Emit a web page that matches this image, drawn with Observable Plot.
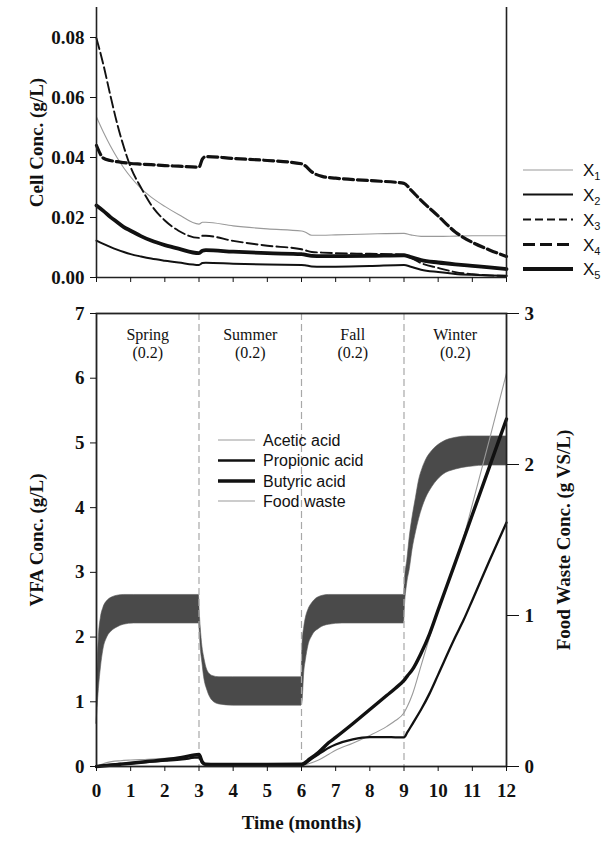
<!DOCTYPE html>
<html>
<head>
<meta charset="utf-8">
<script src="https://cdn.jsdelivr.net/npm/d3@7"></script>
<script src="https://cdn.jsdelivr.net/npm/@observablehq/plot@0.6"></script>
<style>
  html, body { margin: 0; padding: 0; background: #fff; }
  #wrap { position: relative; width: 608px; height: 841px; overflow: hidden; }
  #top { position: absolute; left: 0; top: 0; }
  #bottom { position: absolute; left: 0; top: 290px; }
  #legend { position: absolute; left: 0; top: 0; pointer-events: none; }
</style>
</head>
<body>
<div id="wrap">
  <div id="top"></div>
  <div id="bottom"></div>
  <svg id="legend" width="608" height="841"></svg>
</div>
<script>
// ---------------- DATA ----------------
const monthTicks = [0, 1, 2, 3, 4, 5, 6, 7, 8, 9, 10, 11, 12];
const monthDomain = [0, 12];
const cellTicks = [0, 0.02, 0.04, 0.06, 0.08];
const vfaTicks = [0, 1, 2, 3, 4, 5, 6, 7];
const fwTicks = [0, 1, 2, 3];

// cell concentrations (g/L)
const cellT  = [0, 0.2, 0.4, 0.6, 0.8, 1.0, 1.3, 1.6, 2.0, 2.4, 3.0, 3.1, 3.2, 4, 5, 6, 6.1, 6.3, 6.6, 7, 8, 9, 9.2, 9.5, 10, 10.5, 11, 11.5, 12];
const cellX1 = [0.0535, 0.0485, 0.044, 0.040, 0.0365, 0.0335, 0.0297, 0.0268, 0.0237, 0.021, 0.0178, 0.0184, 0.0184, 0.0172, 0.0162, 0.0155, 0.0152, 0.0141, 0.0141, 0.0142, 0.0145, 0.0147, 0.0142, 0.0137, 0.0137, 0.0138, 0.0139, 0.0139, 0.0139];
const cellX2 = [0.0123, 0.0112, 0.0102, 0.0093, 0.0085, 0.0078, 0.0070, 0.0063, 0.0056, 0.0050, 0.0042, 0.0048, 0.0049, 0.0046, 0.0043, 0.0042, 0.0041, 0.0037, 0.0036, 0.0036, 0.0038, 0.0042, 0.0036, 0.0026, 0.0018, 0.0012, 0.0009, 0.0007, 0.0006];
const cellX3 = [0.0797, 0.071, 0.061, 0.0515, 0.0435, 0.0368, 0.030, 0.0242, 0.019, 0.0156, 0.0132, 0.0139, 0.0139, 0.0122, 0.0106, 0.0094, 0.0091, 0.0085, 0.0083, 0.0081, 0.0079, 0.0077, 0.0066, 0.0048, 0.0032, 0.0018, 0.0011, 0.0007, 0.0005];
const cellX4 = [0.044, 0.0398, 0.0390, 0.0386, 0.0383, 0.0380, 0.0378, 0.0376, 0.0373, 0.0371, 0.0368, 0.0395, 0.0403, 0.0397, 0.0390, 0.0379, 0.0373, 0.0352, 0.0337, 0.0331, 0.0323, 0.0314, 0.0292, 0.0257, 0.0205, 0.0152, 0.0117, 0.0092, 0.0070];
const cellX5 = [0.024, 0.0222, 0.0202, 0.0185, 0.0168, 0.0156, 0.0138, 0.0123, 0.0108, 0.0096, 0.0081, 0.0089, 0.0091, 0.0086, 0.0081, 0.0078, 0.0076, 0.0072, 0.0071, 0.0071, 0.0072, 0.0074, 0.0068, 0.0058, 0.0050, 0.0044, 0.0039, 0.0034, 0.0028];
const cellNames = ["1", "2", "3", "4", "5"];

// VFA concentrations (g/L)
const vfaT       = [0, 0.3, 0.7, 1, 1.5, 2, 2.5, 3, 3.1, 3.2, 3.5, 4, 5, 6, 6.25, 6.5, 6.8, 7, 7.5, 8, 8.5, 8.75, 9, 9.1, 9.25, 9.5, 9.75, 10, 10.5, 10.75, 11, 11.5, 12];
const acetic     = [0, 0.06, 0.09, 0.10, 0.11, 0.125, 0.145, 0.165, 0.06, 0.03, 0.025, 0.02, 0.02, 0.02, 0.05, 0.10, 0.19, 0.25, 0.36, 0.48, 0.62, 0.71, 0.83, 0.93, 1.12, 1.56, 2.0, 2.42, 3.15, 3.55, 4.05, 5.05, 6.08];
const propionic  = [0, 0.02, 0.04, 0.05, 0.07, 0.09, 0.11, 0.14, 0.05, 0.025, 0.02, 0.02, 0.02, 0.02, 0.10, 0.19, 0.29, 0.34, 0.42, 0.455, 0.455, 0.45, 0.45, 0.53, 0.66, 0.88, 1.13, 1.42, 2.0, 2.27, 2.57, 3.18, 3.77];
const butyric    = [0, 0.015, 0.035, 0.05, 0.078, 0.105, 0.14, 0.185, 0.07, 0.035, 0.03, 0.03, 0.03, 0.035, 0.12, 0.22, 0.37, 0.45, 0.66, 0.88, 1.10, 1.21, 1.33, 1.40, 1.50, 1.75, 2.05, 2.42, 3.15, 3.52, 3.89, 4.63, 5.37];
const vfaNames = ["Acetic acid", "Propionic acid", "Butyric acid", "Food waste"];

// food waste (g VS/L): envelope of the daily-fed oscillation
const fwT    = [0, 0.03, 0.07, 0.13, 0.2, 0.32, 0.45, 0.61, 0.8, 1.1, 3.0, 3.02, 3.05, 3.1, 3.15, 3.25, 3.39, 3.6, 4.0, 6.0, 6.01, 6.03, 6.08, 6.13, 6.2, 6.32, 6.52, 6.81, 7.2, 9.0, 9.03, 9.1, 9.17, 9.25, 9.35, 9.44, 9.54, 9.64, 9.83, 10.13, 10.52, 10.9, 11.48, 12];
const fwHigh = [0.300, 0.643, 0.857, 0.986, 1.050, 1.097, 1.119, 1.131, 1.136, 1.136, 1.136, 1.029, 0.921, 0.793, 0.724, 0.634, 0.600, 0.591, 0.591, 0.591, 0.686, 0.810, 0.921, 0.986, 1.037, 1.084, 1.123, 1.136, 1.136, 1.136, 1.243, 1.371, 1.521, 1.650, 1.779, 1.894, 1.971, 2.027, 2.091, 2.147, 2.177, 2.186, 2.186, 2.186];
const fwLow  = [0.283, 0.386, 0.514, 0.656, 0.771, 0.857, 0.896, 0.921, 0.939, 0.947, 0.947, 0.900, 0.789, 0.686, 0.591, 0.501, 0.437, 0.411, 0.403, 0.403, 0.407, 0.429, 0.621, 0.707, 0.797, 0.866, 0.913, 0.939, 0.947, 0.947, 1.071, 1.221, 1.307, 1.436, 1.551, 1.637, 1.714, 1.774, 1.851, 1.929, 1.967, 1.984, 1.993, 1.993];

// seasons
const seasonStarts = [0, 3, 6, 9];
const seasonNames = ["Spring", "Summer", "Fall", "Winter"];
const seasonRatio = ["0.2", "0.2", "0.2", "0.2"];

// ---------------- STYLES ----------------
const serif = "'Liberation Serif', 'Times New Roman', serif";
const sans = "'Liberation Sans', Arial, sans-serif";
const cellStyles = [
  {stroke: "#9a9a9a", strokeWidth: 1.1, dash: null, legDash: null},
  {stroke: "#111", strokeWidth: 2.0, dash: null, legDash: null},
  {stroke: "#111", strokeWidth: 1.9, dash: "11,4", legDash: "8,4"},
  {stroke: "#111", strokeWidth: 3.2, dash: "10,4", legDash: "12,5"},
  {stroke: "#111", strokeWidth: 3.8, dash: null, legDash: null}
];
const vfaStyles = [
  {stroke: "#9a9a9a", strokeWidth: 1.1},
  {stroke: "#111", strokeWidth: 2.3},
  {stroke: "#111", strokeWidth: 3.4},
  {stroke: "#9a9a9a", strokeWidth: 1.1}
];
const ratio = 7 / 3; // left (VFA) units per food-waste unit

// ---------------- TOP PLOT ----------------
const cellSeries = [cellX1, cellX2, cellX3, cellX4, cellX5];
const cellMarks = cellSeries.map((vals, i) =>
  Plot.line(cellT.map((t, j) => ({t, v: vals[j]})), {
    x: "t", y: "v", curve: "monotone-x",
    stroke: cellStyles[i].stroke, strokeWidth: cellStyles[i].strokeWidth,
    strokeDasharray: cellStyles[i].dash
  })
);

const topPlot = Plot.plot({
  width: 608, height: 290,
  marginLeft: 96, marginRight: 102, marginTop: 7, marginBottom: 13,
  x: {domain: monthDomain, axis: null},
  y: {domain: [0, 0.09], axis: null},
  style: {fontFamily: serif, fontSize: "19px", fontWeight: "bold", color: "#111", background: "transparent", overflow: "visible"},
  marks: [
    ...cellMarks,
    Plot.ruleX(monthDomain, {stroke: "#222", strokeWidth: 1.6}),
    Plot.ruleY([0], {stroke: "#222", strokeWidth: 1.6}),
    Plot.axisY({ticks: cellTicks, tickFormat: d3.format(".2f"), tickSize: 6, tickPadding: 6, label: null, fontSize: 19, fontWeight: "bold"}),
    Plot.axisX({ticks: monthTicks, tickFormat: () => "", tickSize: 5, label: null}),
    Plot.text(["Cell Conc. (g/L)"], {frameAnchor: "left", textAnchor: "middle", rotate: -90, dx: -60, fontSize: 19, fontWeight: "bold"})
  ]
});
document.getElementById("top").appendChild(topPlot);

// ---------------- BOTTOM PLOT ----------------
const fwRows = fwT.map((t, j) => ({t, hi: fwHigh[j] * ratio, lo: fwLow[j] * ratio}));
const vfaSeries = [acetic, propionic, butyric];
const vfaMarks = vfaSeries.map((vals, i) =>
  Plot.line(vfaT.map((t, j) => ({t, v: vals[j]})), {
    x: "t", y: "v", curve: "monotone-x",
    stroke: vfaStyles[i].stroke, strokeWidth: vfaStyles[i].strokeWidth
  })
);
const seasonRows = seasonStarts.map((s, i) => ({
  mid: s + (i < seasonStarts.length - 1 ? seasonStarts[i + 1] - s : monthDomain[1] - s) / 2,
  label: seasonNames[i] + "\n(" + seasonRatio[i] + ")"
}));

const bottomPlot = Plot.plot({
  width: 608, height: 551,
  marginLeft: 96, marginRight: 102, marginTop: 23, marginBottom: 75,
  x: {domain: monthDomain, axis: null},
  y: {domain: [0, 7], axis: null},
  style: {fontFamily: serif, fontSize: "19px", fontWeight: "bold", color: "#111", background: "transparent", overflow: "visible"},
  marks: [
    Plot.areaY(fwRows, {x: "t", y1: "lo", y2: "hi", curve: "monotone-x", fill: "#4a4a4a", stroke: "#5a5a5a", strokeWidth: 0.6}),
    Plot.ruleX(seasonStarts.slice(1), {stroke: "#a8a8a8", strokeWidth: 1.2, strokeDasharray: "7,4"}),
    ...vfaMarks,
    Plot.frame({stroke: "#222", strokeWidth: 1.8}),
    Plot.axisY({ticks: vfaTicks, tickFormat: d3.format("d"), tickSize: 6, tickPadding: 6, label: null, fontSize: 19, fontWeight: "bold"}),
    Plot.axisY({anchor: "right", ticks: fwTicks.map(v => v * ratio), tickFormat: v => String(Math.round(v / ratio)), tickSize: 12, tickPadding: 6, label: null, fontSize: 19, fontWeight: "bold"}),
    Plot.axisX({ticks: monthTicks, tickFormat: d3.format("d"), tickSize: 5, tickPadding: 12, label: null, fontSize: 19, fontWeight: "bold"}),
    Plot.text(seasonRows, {x: "mid", text: "label", frameAnchor: "top", lineAnchor: "top", dy: 13, fontSize: 16, fontWeight: "normal", lineHeight: 1.15, fill: "#111"}),
    Plot.text(["VFA Conc. (g/L)"], {frameAnchor: "left", textAnchor: "middle", rotate: -90, dx: -60, fontSize: 19, fontWeight: "bold"}),
    Plot.text(["Food Waste Conc. (g VS/L)"], {frameAnchor: "right", textAnchor: "middle", rotate: -90, dx: 57, fontSize: 19, fontWeight: "bold"}),
    Plot.text(["Time (months)"], {frameAnchor: "bottom", dy: 62, fontSize: 19, fontWeight: "bold"})
  ]
});
document.getElementById("bottom").appendChild(bottomPlot);

// ---------------- LEGENDS ----------------
const leg = d3.select("#legend");
// cell legend (right of top panel)
const cellLegY = [170, 194.5, 219.5, 244.5, 269];
cellNames.forEach((n, i) => {
  const st = cellStyles[i];
  leg.append("line").attr("x1", 523).attr("x2", 573).attr("y1", cellLegY[i]).attr("y2", cellLegY[i])
    .attr("stroke", st.stroke).attr("stroke-width", st.strokeWidth)
    .attr("stroke-dasharray", st.legDash);
  const t = leg.append("text").attr("x", 583).attr("y", cellLegY[i] + 6)
    .attr("font-family", sans).attr("font-size", 17).attr("fill", "#111");
  t.append("tspan").text("X");
  t.append("tspan").attr("dy", 4).attr("font-size", 11).text(n);
});
// VFA legend (inside bottom panel)
const vfaLegY = [440, 460.5, 481, 501];
vfaNames.forEach((n, i) => {
  const st = vfaStyles[i];
  leg.append("line").attr("x1", 218).attr("x2", 255).attr("y1", vfaLegY[i]).attr("y2", vfaLegY[i])
    .attr("stroke", st.stroke).attr("stroke-width", st.strokeWidth);
  leg.append("text").attr("x", 263).attr("y", vfaLegY[i] + 5.5)
    .attr("font-family", sans).attr("font-size", 16).attr("fill", "#111").text(n);
});
</script>
</body>
</html>
